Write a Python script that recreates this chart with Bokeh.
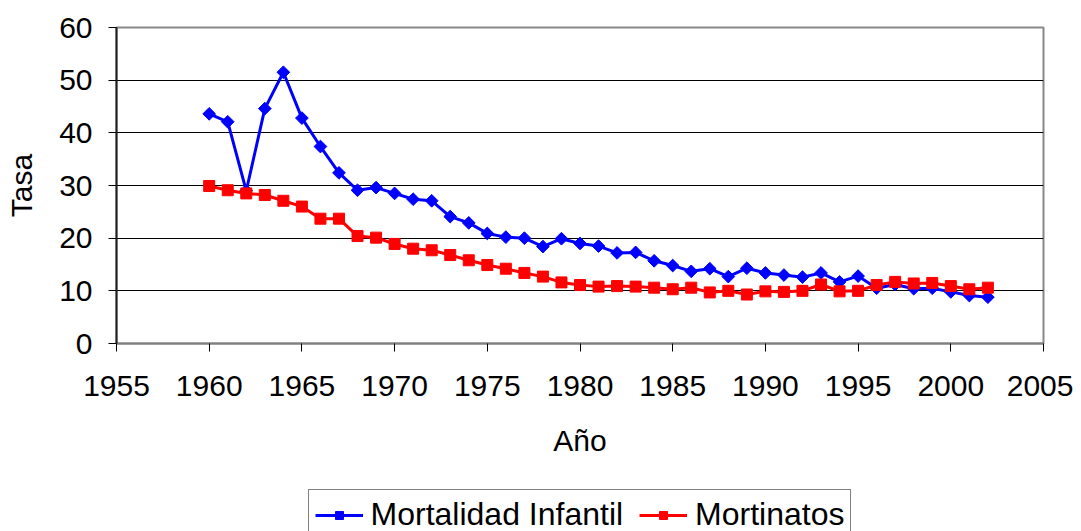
import math
from bokeh.plotting import figure
from bokeh.layouts import column
from bokeh.models import Range1d, SingleIntervalTicker, Legend, LegendItem
from bokeh.embed import file_html
from bokeh.resources import INLINE

years = list(range(1960, 2003))
mortalidad_infantil = [43.6, 42.1, 29.0, 44.6, 51.5, 42.8, 37.4, 32.4, 29.1, 29.6,
                       28.5, 27.4, 27.1, 24.1, 22.9, 20.9, 20.2, 20.0, 18.4, 19.9,
                       19.0, 18.5, 17.2, 17.3, 15.7, 14.8, 13.7, 14.2, 12.7, 14.3,
                       13.4, 13.0, 12.6, 13.4, 11.7, 12.8, 10.5, 11.2, 10.4, 10.5,
                       9.8, 9.1, 8.8]
mortinatos = [29.9, 29.1, 28.5, 28.2, 27.1, 26.0, 23.7, 23.7, 20.4, 20.1,
              18.9, 18.0, 17.7, 16.8, 15.8, 14.9, 14.2, 13.4, 12.7, 11.6,
              11.1, 10.8, 10.9, 10.8, 10.6, 10.3, 10.6, 9.7, 10.0, 9.3,
              9.9, 9.8, 10.0, 11.2, 9.9, 10.0, 11.1, 11.7, 11.4, 11.5,
              10.9, 10.3, 10.6]
series_names = ["Mortalidad Infantil", "Mortinatos"]

FONT = "Liberation Sans"
FS = "30px"
BLUE = "#0000FF"
RED = "#FF0000"

p = figure(frame_width=927, frame_height=316, output_backend="svg", toolbar_location=None,
           x_range=Range1d(1955, 2005), y_range=Range1d(0, 60))
p.min_border_left = 116
p.min_border_right = 30
p.min_border_top = 27
p.min_border_bottom = 146

p.xaxis.ticker = SingleIntervalTicker(interval=5)
p.yaxis.ticker = SingleIntervalTicker(interval=10)
p.xgrid.visible = False
p.ygrid.grid_line_color = "#000000"
p.ygrid.grid_line_width = 1

p.outline_line_color = "#888888"
p.outline_line_width = 2

for ax in (p.xaxis[0], p.yaxis[0]):
    ax.major_label_text_font = FONT
    ax.major_label_text_font_size = FS
    ax.major_label_text_color = "#000000"
    ax.axis_label_text_font = FONT
    ax.axis_label_text_font_size = FS
    ax.axis_label_text_font_style = "normal"
    ax.axis_label_text_color = "#000000"
    ax.major_tick_in = 0
    ax.major_tick_out = 8
    ax.minor_tick_in = 0
    ax.minor_tick_out = 0
    ax.major_tick_line_color = "#000000"

p.xaxis.axis_label = "Año"
p.yaxis.axis_label = "Tasa"
p.xaxis.axis_line_color = "#808080"
p.xaxis.axis_line_width = 2
p.yaxis.axis_line_color = "#222222"
p.yaxis.axis_line_width = 2
p.xaxis.major_label_standoff = 24
p.xaxis.axis_label_standoff = 25
p.yaxis.major_label_standoff = 16
p.yaxis.axis_label_standoff = 18

p.line(years, mortalidad_infantil, line_color=BLUE, line_width=3)
p.scatter(years, mortalidad_infantil, marker="square", size=9, angle=math.pi / 4,
          fill_color=BLUE, line_color=BLUE)
p.line(years, mortinatos, line_color=RED, line_width=3)
p.scatter(years, mortinatos, marker="square", size=11,
          fill_color=RED, line_color=RED)

# Legend strip below the chart (own canvas, same frame geometry as the chart)
p2 = figure(frame_width=927, frame_height=60, output_backend="svg", toolbar_location=None,
            x_range=Range1d(0, 1), y_range=Range1d(0, 1),
            x_axis_location=None, y_axis_location=None)
p2.min_border_left = 116
p2.min_border_right = 30
p2.min_border_top = 0
p2.min_border_bottom = 0
p2.grid.visible = False
p2.outline_line_color = None

kl1 = p2.line(years, mortalidad_infantil, line_color=BLUE, line_width=3)
km1 = p2.scatter(years, mortalidad_infantil, marker="square", size=7, angle=math.pi / 4,
                 fill_color=BLUE, line_color=BLUE)
kl2 = p2.line(years, mortinatos, line_color=RED, line_width=3)
km2 = p2.scatter(years, mortinatos, marker="square", size=9, fill_color=RED, line_color=RED)

legend = Legend(items=[LegendItem(label=series_names[0], renderers=[kl1, km1]),
                       LegendItem(label=series_names[1], renderers=[kl2, km2])],
                orientation="horizontal", location="top_center")
legend.label_text_font = FONT
legend.label_text_font_size = "32px"
legend.label_text_color = "#000000"
legend.glyph_width = 48
legend.label_standoff = 8
legend.spacing = 16
legend.padding = 6
legend.margin = 0
legend.border_line_color = "#000000"
legend.border_line_width = 1
legend.background_fill_alpha = 1
p2.add_layout(legend, "center")

layout = column(p, p2, spacing=0)
open("out.html", "w").write(file_html(layout, INLINE))
